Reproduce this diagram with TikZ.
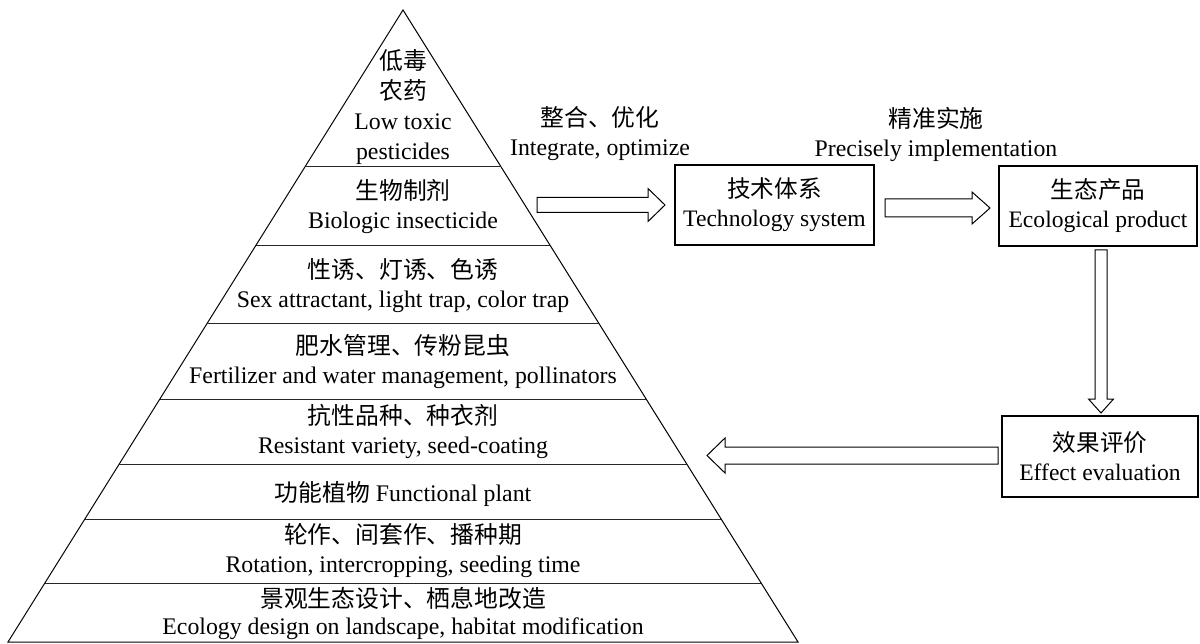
\documentclass[tikz,border=0pt]{standalone}
\usepackage{fontspec}
\setmainfont{Liberation Serif}
\newfontfamily\cjk{Noto Sans CJK SC}
\usetikzlibrary{calc}
\newcommand\zh[1]{{\cjk #1}}
\newcommand\fatarr[7]{%
 \draw[fat] ($(#1)+({-(#4)*(#5)},{(#3)*(#5)})$)
 -- ($(#2)+({-(#3)*(#7)-(#4)*(#5)},{-(#4)*(#7)+(#3)*(#5)})$)
 -- ($(#2)+({-(#3)*(#7)-(#4)*(#6)},{-(#4)*(#7)+(#3)*(#6)})$)
 -- (#2)
 -- ($(#2)+({-(#3)*(#7)+(#4)*(#6)},{-(#4)*(#7)-(#3)*(#6)})$)
 -- ($(#2)+({-(#3)*(#7)+(#4)*(#5)},{-(#4)*(#7)-(#3)*(#5)})$)
 -- ($(#1)+({(#4)*(#5)},{-(#3)*(#5)})$) -- cycle;}
\begin{document}
\begin{tikzpicture}[x=1pt,y=-1pt,
  lbl/.style={inner sep=0pt, align=center, font=\fontsize{23.8}{29}\selectfont},
  tier/.style={line width=1pt, draw=black!85},
  box/.style={draw, line width=1.1pt, inner sep=0pt, align=center,
     font=\fontsize{23.6}{29}\selectfont, minimum width=#1, minimum height=80pt},
  fat/.style={draw, line width=1pt, fill=white, line join=miter}]
\useasboundingbox (0,0) rectangle (1200,644);
% pyramid
\coordinate (apex) at (403,10);
\coordinate (bl) at (8,642);
\coordinate (br) at (798,642);
\draw[line width=1pt] (apex) -- (bl) -- (br) -- cycle;
\foreach \y in {167,246,324,399,464,519,583}{
  \pgfmathsetmacro\xl{403-(\y-10)/632*395}
  \pgfmathsetmacro\xr{403+(\y-10)/632*395}
  \draw[tier] (\xl,\y) -- (\xr,\y);
}
% tier texts
\node[lbl, font=\fontsize{23.8}{30}\selectfont] (t1) at (403,107) {\zh{低毒}\\\zh{农药}\\Low toxic\\pesticides};
\node[lbl] (t2) at (403,207) {\zh{生物制剂}\\Biologic insecticide};
\node[lbl] (t3) at (403,286) {\zh{性诱、灯诱、色诱}\\Sex attractant, light trap, color trap};
\node[lbl] (t4) at (403,362) {\zh{肥水管理、传粉昆虫}\\Fertilizer and water management, pollinators};
\node[lbl] (t5) at (403,431) {\zh{抗性品种、种衣剂}\\Resistant variety, seed-coating};
\node[lbl] (t6) at (403,494) {\zh{功能植物} Functional plant};
\node[lbl] (t7) at (403,551) {\zh{轮作、间套作、播种期}\\Rotation, intercropping, seeding time};
\node[lbl, font=\fontsize{23.8}{27}\selectfont] (t8) at (403,613) {\zh{景观生态设计、栖息地改造}\\Ecology design on landscape, habitat modification};
% labels
\node[lbl] (l1) at (600,134) {\zh{整合、优化}\\Integrate, optimize};
\node[lbl] (l2) at (936,134) {\zh{精准实施}\\Precisely implementation};
% boxes
\node[box=199pt] (tech) at (774.5,205) {\zh{技术体系}\\Technology system};
\node[box=198pt] (eco) at (1098,206) {\zh{生态产品}\\Ecological product};
\node[box=196pt, minimum height=81pt] (eff) at (1100,456.5) {\zh{效果评价}\\Effect evaluation};
% arrows
\coordinate (a1s) at (537,205);
\coordinate (a1e) at (665,205);
\coordinate (a2s) at (885,208);
\coordinate (a2e) at (990,208);
\coordinate (a3s) at (1101,250);
\coordinate (a3e) at (1101,413);
\coordinate (a4s) at (998,455.5);
\coordinate (a4e) at (707,455.5);
\fatarr{a1s}{a1e}{1}{0}{7.5}{16.5}{17}
\fatarr{a2s}{a2e}{1}{0}{9}{16}{18}
\fatarr{a3s}{a3e}{0}{1}{6}{12.5}{14}
\fatarr{a4s}{a4e}{-1}{0}{8.5}{17.5}{18}
\end{tikzpicture}
\end{document}
